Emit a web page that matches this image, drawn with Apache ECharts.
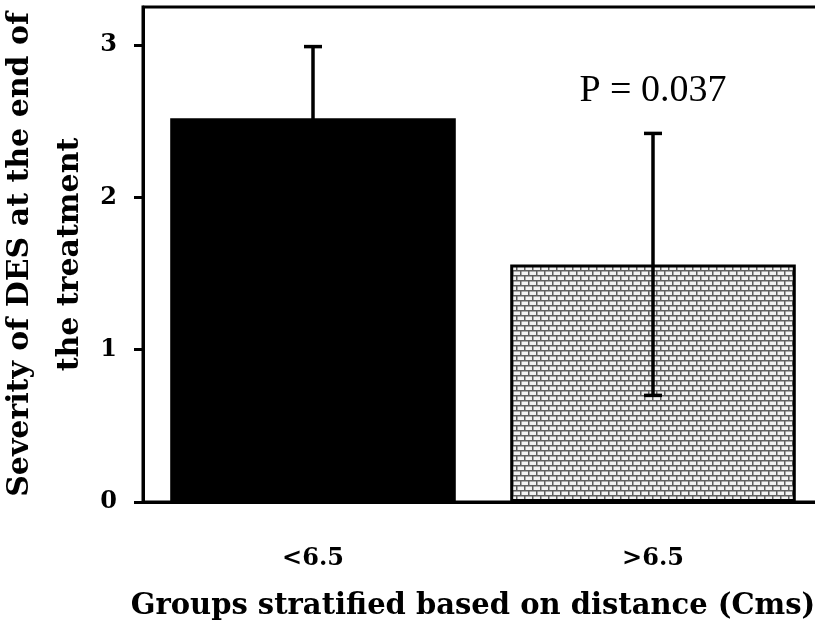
<!DOCTYPE html>
<html>
<head>
<meta charset="utf-8">
<title>Severity of DES</title>
<script src="https://cdn.jsdelivr.net/npm/echarts@6.0.0/dist/echarts.min.js"></script>
<style>
html, body { margin: 0; padding: 0; background: #fff; }
#chart { width: 815px; height: 624px; }
</style>
</head>
<body>
<div id="chart"></div>
<script>
// data
var groups = ['<6.5', '>6.5'];
var meanSeverity = [2.52, 1.56];
var errLow = [2.03, 0.70];
var errHigh = [2.99, 2.42];
var pLabels = ['', 'P = 0.037'];
var yTicks = [0, 1, 2, 3];

var boldFont = 'DejaVu Serif';

// brick fill of the second bar
function brickPattern() {
	var c = document.createElement('canvas');
	c.width = 8;
	c.height = 10;
	var ctx = c.getContext('2d');
	ctx.fillStyle = '#f2f2f2';
	ctx.fillRect(0, 0, 8, 10);
	ctx.fillStyle = '#5e5e5e';
	ctx.fillRect(0, 0, 8, 1.5);
	ctx.fillRect(0, 5, 8, 1.5);
	ctx.fillRect(0, 0, 1.5, 5);
	ctx.fillRect(4, 5, 1.5, 5);
	return c;
}

var barDatas = [];
for (var i in meanSeverity) {
	var item = new Object();
	item.value = meanSeverity[i];
	if (i == 0) {
		item.itemStyle = { color: '#000' };
	} else {
		item.itemStyle = {
			color: { image: brickPattern(), repeat: 'repeat' },
			borderColor: '#000',
			borderWidth: 3
		};
	}
	barDatas.push(item);
}

var errDatas = [];
for (var i in errLow) {
	errDatas.push([Number(i), errLow[i], errHigh[i]]);
}

// error bar with caps, plus the p value above it
function renderErr(params, api) {
	var idx = api.value(0);
	var top = api.coord([idx, api.value(2)]);
	var bot = api.coord([idx, api.value(1)]);
	var x = top[0];
	var half = 9;
	var st = { stroke: '#000', lineWidth: 3.5 };
	var children = [
		{ type: 'line', shape: { x1: x, y1: top[1], x2: x, y2: bot[1] }, style: st },
		{ type: 'line', shape: { x1: x - half, y1: top[1], x2: x + half, y2: top[1] }, style: st },
		{ type: 'line', shape: { x1: x - half, y1: bot[1], x2: x + half, y2: bot[1] }, style: st }
	];
	if (pLabels[idx]) {
		children.push({
			type: 'text',
			x: x,
			y: top[1] - 42,
			style: {
				text: pLabels[idx],
				fill: '#000',
				font: '38px "Liberation Serif"',
				align: 'center',
				verticalAlign: 'middle'
			}
		});
	}
	return { type: 'group', children: children };
}

var chart = echarts.init(document.getElementById('chart'));

var options = {
	animation: false,
	grid: {
		left: 143,
		right: -8,
		top: 7,
		bottom: 122,
		show: true,
		borderColor: '#000',
		borderWidth: 3,
		containLabel: false,
		outerBoundsMode: 'none'
	},
	xAxis: {
		type: 'category',
		data: groups,
		name: 'Groups stratified based on distance (Cms)',
		nameLocation: 'middle',
		nameGap: 90,
		nameMoveOverlap: false,
		nameTextStyle: {
			fontFamily: boldFont,
			fontWeight: 'bold',
			fontSize: 29,
			padding: [0, 20, 0, 0],
			color: '#000'
		},
		axisLine: { lineStyle: { color: '#000', width: 3 } },
		axisTick: { length: 11, lineStyle: { color: '#000', width: 3 } },
		axisLabel: {
			margin: 45,
			fontFamily: boldFont,
			fontWeight: 'bold',
			fontSize: 24,
			color: '#000'
		}
	},
	yAxis: {
		type: 'value',
		min: 0,
		max: 3.25,
		interval: 1,
		name: 'Severity of DES at the end of\nthe treatment',
		nameLocation: 'middle',
		nameRotate: 90,
		nameGap: 48,
		nameMoveOverlap: false,
		nameTextStyle: {
			fontFamily: boldFont,
			fontWeight: 'bold',
			fontSize: 30,
			lineHeight: 50,
			color: '#000'
		},
		splitLine: { show: false },
		axisLine: { show: true, lineStyle: { color: '#000', width: 3 } },
		axisTick: {
			show: true,
			length: 9,
			customValues: yTicks,
			lineStyle: { color: '#000', width: 3 }
		},
		axisLabel: {
			margin: 26,
			customValues: yTicks,
			fontFamily: boldFont,
			fontWeight: 'bold',
			fontSize: 24,
			color: '#000'
		}
	},
	series: [
		{
			type: 'bar',
			barWidth: '84%',
			data: barDatas,
			z: 2
		},
		{
			type: 'custom',
			renderItem: renderErr,
			encode: { x: 0, y: [1, 2] },
			data: errDatas,
			z: 3
		}
	]
};

chart.setOption(options);
</script>
</body>
</html>
